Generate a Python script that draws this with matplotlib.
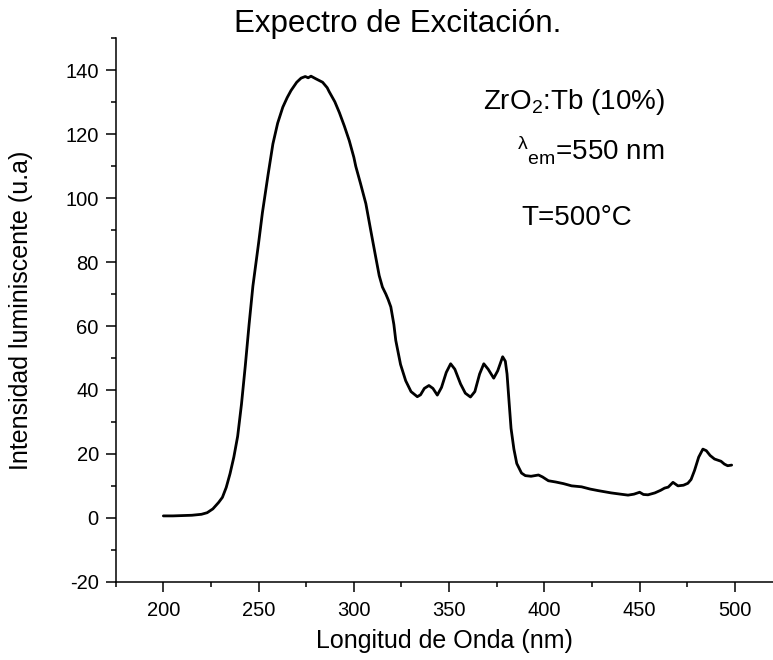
import numpy as np
import matplotlib.pyplot as plt
from matplotlib.ticker import MultipleLocator

plt.rcParams['font.family'] = ['Liberation Sans', 'DejaVu Sans']
plt.rcParams['mathtext.fontset'] = 'custom'
plt.rcParams['mathtext.rm'] = 'Liberation Sans'
plt.rcParams['mathtext.it'] = 'Liberation Sans:italic'
plt.rcParams['axes.unicode_minus'] = False

# Excitation spectrum, ZrO2:Tb (10%), emission monitored at 550 nm
wavelength = [200, 205, 210, 215, 220, 223, 226, 229, 231, 233, 235, 237, 239, 241,
              243, 245, 247, 250, 252, 255, 257.5, 260, 262.7, 265, 267, 270, 272.3,
              274.5, 276, 277.5, 280, 283.6, 286, 287, 290, 292.4, 295, 297.6, 300,
              301, 303.5, 306.3, 309, 311.5, 313.3, 315, 316.8, 318, 319.4, 321, 322,
              324.5, 327.2, 330, 333.3, 335, 337, 339.4, 341.5, 343.8, 346, 348.5,
              350.8, 353, 356, 358.5, 361.2, 363.5, 366, 368.2, 370.5, 373.4, 375.5,
              378.1, 379.5, 380.4, 381.5, 382.5, 384, 385.5, 388, 390, 393, 396.9,
              399, 402.1, 406, 410, 414.3, 419.5, 424, 428.3, 435, 440, 443.9, 447,
              450, 452, 454.4, 458, 461, 463.1, 465, 467.5, 470.1, 473, 475.3, 477,
              478.8, 481, 483.2, 485, 487, 489.3, 492.7, 494.5, 496.2, 498.3]
intensity = [0.6, 0.6, 0.7, 0.8, 1.1, 1.6, 2.8, 4.8, 6.4, 9.5, 13.8, 19.0, 25.5, 35.5,
             47.5, 60.5, 72.5, 86.0, 95.5, 107.5, 117.0, 123.5, 128.5, 131.5, 133.7,
             136.3, 137.6, 138.1, 137.7, 138.2, 137.4, 136.3, 134.6, 133.4, 130.2,
             126.8, 122.6, 118.0, 112.8, 110.0, 104.6, 98.3, 89.5, 81.5, 75.8, 72.2,
             70.0, 68.3, 66.0, 60.5, 55.5, 48.0, 42.9, 39.5, 37.9, 38.5, 40.5, 41.4,
             40.5, 38.4, 40.8, 45.5, 48.2, 46.5, 41.9, 39.0, 37.8, 39.5, 45.0, 48.2,
             46.5, 43.7, 46.0, 50.4, 49.0, 45.0, 36.0, 28.0, 21.5, 17.0, 14.0, 13.2,
             13.0, 13.4, 12.8, 11.6, 11.2, 10.7, 10.0, 9.7, 9.0, 8.5, 7.8, 7.4, 7.1,
             7.4, 8.0, 7.3, 7.2, 7.8, 8.6, 9.3, 9.6, 11.1, 10.0, 10.2, 10.8, 12.0,
             14.8, 19.0, 21.5, 21.0, 19.5, 18.4, 17.7, 16.8, 16.3, 16.5]

fig = plt.figure(figsize=(7.73, 6.6), dpi=100)
ax = fig.add_axes([0.1497, 0.1186, 0.8503, 0.8231])

ax.plot(wavelength, intensity, color='black', linewidth=2.0,
        solid_joinstyle='round', solid_capstyle='round')

ax.set_xlim(175, 520)
ax.set_ylim(-20, 150)
ax.xaxis.set_minor_locator(MultipleLocator(25))
ax.yaxis.set_minor_locator(MultipleLocator(10))
ax.set_xticks(np.arange(200, 501, 50))
ax.set_yticks(np.arange(-20, 141, 20))

for side in ['top', 'right']:
    ax.spines[side].set_visible(False)
for side in ['left', 'bottom']:
    ax.spines[side].set_linewidth(1.1)

ax.tick_params(which='major', direction='out', length=7.2, width=1.1, labelsize=14.5)
ax.tick_params(axis='x', which='major', pad=6.5)
ax.tick_params(axis='y', which='major', pad=5)
ax.tick_params(which='minor', direction='out', length=3.6, width=1.1)

ax.set_xlabel('Longitud de Onda (nm)', fontsize=18, labelpad=7)
ax.set_ylabel('Intensidad luminiscente (u.a)', fontsize=18)
ax.yaxis.set_label_coords(-0.126, 0.5)

fig.text(0.514, 0.9515, 'Expectro de Excitación.', fontsize=22.5, ha='center', va='baseline')

# sample annotations
fig.text(665 / 773, 1 - 109 / 660, r'ZrO$_\mathregular{2}$:Tb (10%)', fontsize=20,
         ha='right', va='baseline')
fig.text(665 / 773, 1 - 159 / 660, r'$^{\mathregular{λ}}{}_{\mathregular{em}}$=550 nm',
         fontsize=20, ha='right', va='baseline')
fig.text(577 / 773, 1 - 225 / 660, 'T=500°C', fontsize=20, ha='center', va='baseline')

fig.savefig('out.png', dpi=100)
